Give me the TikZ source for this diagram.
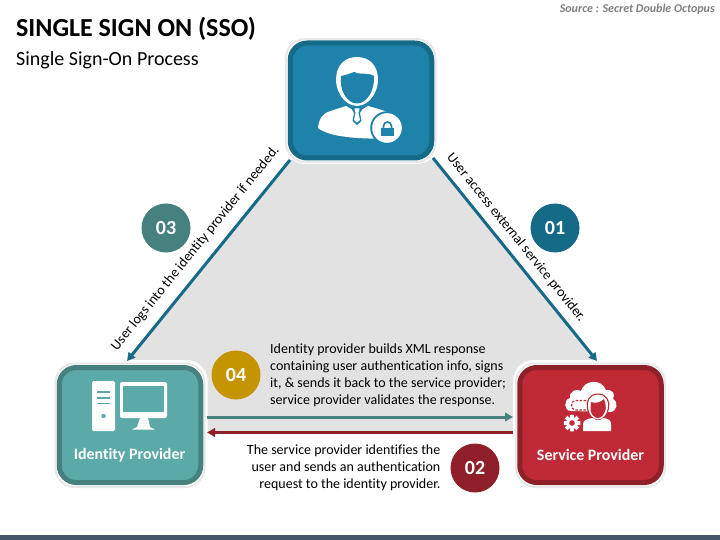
\documentclass[tikz,border=0pt]{standalone}
\usepackage{fontspec}
\setmainfont[RawFeature={-liga;-clig}]{Carlito}
\usetikzlibrary{arrows.meta,calc}
\definecolor{cblue}{HTML}{1F82AB}
\definecolor{cblued}{HTML}{156A87}
\definecolor{cteal}{HTML}{5BAAA8}
\definecolor{cteald}{HTML}{46817F}
\definecolor{cred}{HTML}{BF2A36}
\definecolor{credd}{HTML}{8F2029}
\definecolor{cgold}{HTML}{C49500}
\definecolor{cgray}{HTML}{E2E2E2}
\definecolor{cbar}{HTML}{44546A}
\tikzset{
  x=1pt,y=-1pt,
  tile/.style={draw=#1,line width=5pt,rounded corners=17pt,minimum width=141.5pt,minimum height=115pt,inner sep=0pt},
  halo/.style={fill=white,rounded corners=21pt},
  glow/.style={draw=black!9,line width=2pt,rounded corners=19pt},
  badge/.style={circle,fill=#1,minimum size=49pt,inner sep=0pt,text=white,font=\fontsize{20}{20}\selectfont\bfseries},
  body/.style={font=\fontsize{14}{16.9}\selectfont,text=black,inner sep=0pt},
  flow/.style={line width=#1,-{Triangle[length=8pt,width=8.5pt]}},
  tilelabel/.style={text=white,font=\fontsize{15.9}{16}\selectfont\bfseries,inner sep=0pt},
}
\begin{document}
\begin{tikzpicture}
\useasboundingbox (0,0) rectangle (720,540);
\fill[white] (0,0) rectangle (720,540);
\fill[cbar] (0,535) rectangle (720,540);
% gray triangle
\fill[cgray] (290,160) -- (433,160) -- (597,361) -- (600,432.5) -- (120,432.5) -- (127,361) -- cycle;
% halos
\fill[halo] (284,37) rectangle (438,164);
\fill[halo] (52,360) rectangle (207.5,490);
\fill[halo] (513,360) rectangle (669,490);
\draw[glow] (286,39) rectangle (435.5,162);
\draw[glow] (55.5,363.5) rectangle (204.5,487);
\draw[glow] (516,363.5) rectangle (665,487);
% tiles
\node[tile=cblued,fill=cblue] (user) at (361,100.5) {};
\node[tile=cteald,fill=cteal] (idp) at (130,425) {};
\node[tile=credd,fill=cred] (sp) at (590.5,425) {};
% connector ends
\coordinate (ua) at (290,160);
\coordinate (ub) at (433,158);
\coordinate (ia) at (127,361);
\coordinate (sa) at (597,361);
\coordinate (it) at (207,417);
\coordinate (st) at (513,417);
\coordinate (ir) at (207,432.5);
\coordinate (sr) at (513,432.5);
% connectors
\draw[flow=3pt,cblued] (ua) -- (ia);
\draw[flow=3pt,cblued] (ub) -- (sa);
\draw[flow=3pt,cteald] (it) -- (st);
\draw[flow=3pt,credd] (sr) -- (ir);
% badges
\node[badge=cteald] (b3) at (166,228) {03};
\node[badge=cblued] (b1) at (555,228) {01};
\node[badge=cgold] (b4) at (236,375) {04};
\node[badge=credd] (b2) at (475,468) {02};
% texts
\node[anchor=west,inner sep=0pt,font=\fontsize{26}{28}\selectfont\bfseries] (title) at (16,29) {SINGLE SIGN ON (SSO)};
\node[anchor=west,inner sep=0pt,font=\fontsize{20}{22}\selectfont] (sub) at (16,60.5) {Single Sign-On Process};
\node[anchor=east,inner sep=0pt,text=black!50,font=\fontsize{12}{13}\selectfont\bfseries\itshape] (src) at (715,9) {Source : Secret Double Octopus};
\node[body,rotate=51] (t3) at (195.5,248.5) {User logs into the identity provider if needed.};
\node[body,rotate=-51] (t1) at (516,237.5) {User access external service provider.};
\node[body,anchor=west,align=left] (t4) at (270,375.5) {Identity provider builds XML response\\containing user authentication info, signs\\it, \& sends it back to the service provider;\\service provider validates the response.};
\node[body,anchor=east,align=right] (t2) at (440.5,468) {The service provider identifies the\\user and sends an authentication\\request to the identity provider.};
\node[tilelabel] (l1) at (129.5,455) {Identity Provider};
\node[tilelabel] (l2) at (590.5,455) {Service Provider};
% user icon
\fill[white] (318,128) .. controls (319,118) and (323,113) .. (332,110.5) -- (346,106) -- (353,110) -- (361,110) -- (368,106) -- (382,110) .. controls (392,113) and (394,120) .. (394,128) -- (394,138) -- (385,138.5) .. controls (365,139) and (330,138) .. (318,128) -- cycle;
\fill[cblue] (351,108) -- (354,113) -- (352.5,121) -- (357,125) -- (361.5,121) -- (360,113) -- (363,108) -- cycle;
\fill[white] (354.5,108.5) -- (359.5,108.5) -- (358.5,113) -- (360,120) -- (357,122.5) -- (354,120) -- (355.5,113) -- cycle;
\fill[white] (336,80) .. controls (336,65) and (345,57) .. (357,57) .. controls (369,57) and (378,65) .. (378,80) .. controls (378,90) and (371,105.5) .. (357,106) .. controls (343,105.5) and (336,90) .. (336,80) -- cycle;
\fill[cblue] (341,76) .. controls (347,75) and (351,73) .. (354,72) .. controls (358,75) and (368,72) .. (374,76) .. controls (375,90) and (367,103.5) .. (357,103.5) .. controls (347,103.5) and (339,90) .. (341,76) -- cycle;
\fill[cblue] (387,128) circle (16.8);
\fill[white] (387,128) circle (14.8);
\fill[cblue] (381,128) rectangle (394,136.5);
\draw[cblue,line width=1.6pt] (383.5,128) -- (383.5,126) arc[start angle=180,end angle=360,radius=4] -- (391.5,128);
% computer icon
\fill[white,rounded corners=1.5pt] (92,381) rectangle (115,431);
\draw[cteal,line width=1.3pt] (97,392) -- (110,392) (97,398) -- (110,398) (97,403.5) -- (110,403.5);
\fill[cteal] (103.5,416) circle (2.2);
\fill[white,rounded corners=2pt] (120,382) rectangle (167,418);
\fill[cteal] (123,385.5) rectangle (164,412);
\fill[white] (140,418) -- (148,418) -- (150,427) -- (155,429.5) -- (132,429.5) -- (137,427) -- cycle;
% service icon
\fill[white] (571,411) .. controls (564,411) and (563,400) .. (570,398) .. controls (569,391) and (577,388) .. (581,391) .. controls (584,380) and (601,378) .. (606,390) .. controls (612,389) and (616,394) .. (613,399) .. controls (619,402) and (617,412) .. (610,412) -- cycle;
\draw[cred,line width=1.1pt,dash pattern=on 2.5pt off 1.5pt,rounded corners=2pt] (590,400.5) -- (573,400.5) -- (571,405) -- (573,410) -- (590,410);
\fill[white] (598,394) .. controls (589,394) and (586,402) .. (587.5,408) .. controls (588,415) and (593,420) .. (598,420) .. controls (603,420) and (608,415) .. (608.5,408) .. controls (610,402) and (607,394) .. (598,394) -- cycle;
\draw[cred,line width=1.1pt] (598,394) .. controls (589,394) and (586,402) .. (587.5,408) .. controls (588,415) and (593,420) .. (598,420) .. controls (603,420) and (608,415) .. (608.5,408) .. controls (610,402) and (607,394) .. (598,394) -- cycle;
\fill[cred] (591,402) .. controls (596,404) and (601,402) .. (604,399) .. controls (606,404) and (606,408) .. (605.5,410) .. controls (604,415) and (601,418) .. (598,418) .. controls (594,418) and (591,414) .. (590.5,410) -- cycle;
\fill[white] (583,431) -- (583,424) .. controls (583,420) and (588,418.5) .. (593,418) .. controls (596,421) and (600,421) .. (603,418) .. controls (608,418.5) and (611,420) .. (611,424) -- (611,431) -- cycle;
\foreach \a in {0,45,...,315} {\fill[white] ($(572,423)+(\a-18:5.5)$) -- ($(572,423)+(\a-14:8.5)$) -- ($(572,423)+(\a+14:8.5)$) -- ($(572,423)+(\a+18:5.5)$) -- cycle;}
\fill[white] (572,423) circle (6);
\fill[cred] (572,423) circle (2.8);
\end{tikzpicture}
\end{document}
